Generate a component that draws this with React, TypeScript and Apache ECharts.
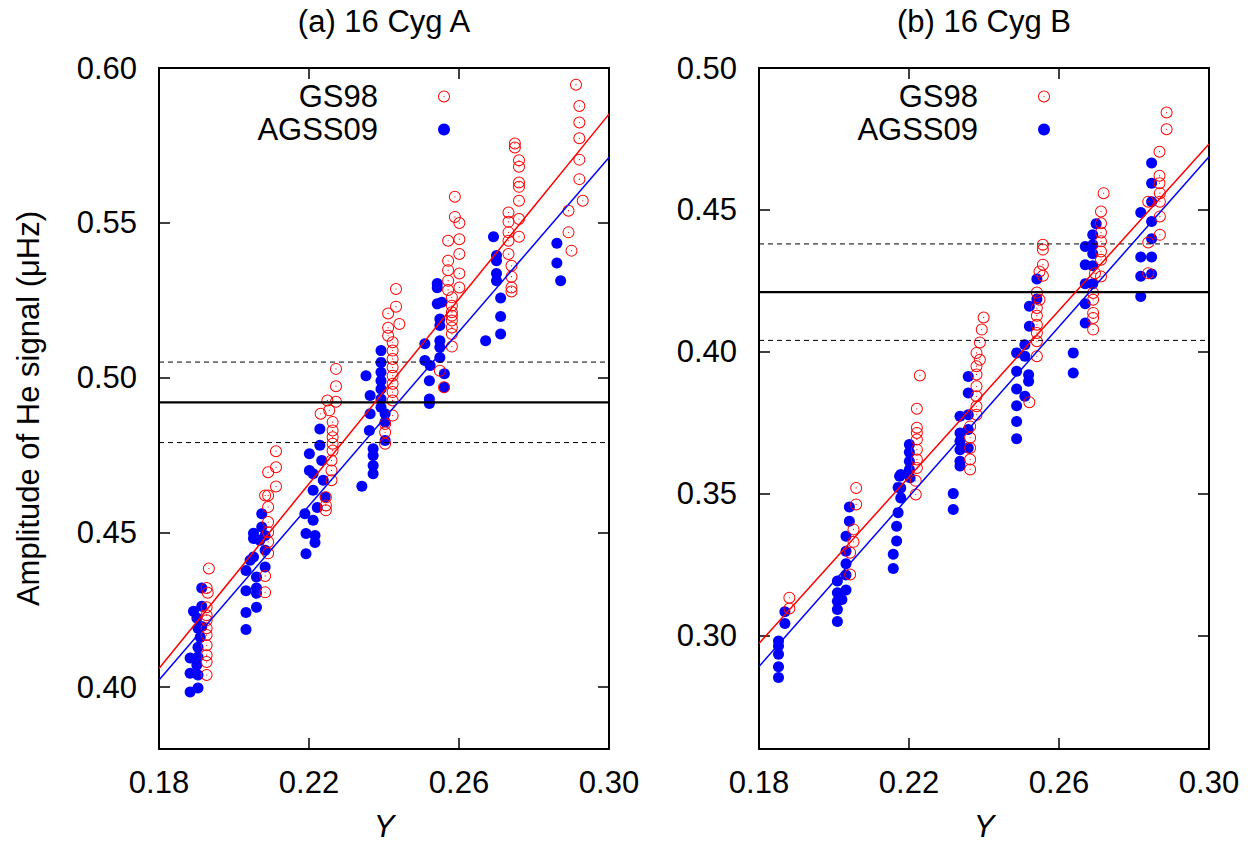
import React, { useEffect, useRef } from 'react';
import * as echarts from 'echarts';

const FONT = 'Liberation Sans, Arial, sans-serif';
const FS = 31;

const xTicks = [0.18, 0.22, 0.26, 0.3];
const yTicksA = [0.4, 0.45, 0.5, 0.55, 0.6];
const yTicksB = [0.3, 0.35, 0.4, 0.45, 0.5];
const yRangeA = [0.38, 0.6];
const yRangeB = [0.26, 0.5];
const xRange = [0.18, 0.3];

const titles = ['(a) 16 Cyg A', '(b) 16 Cyg B'];
const seriesNames = ['GS98', 'AGSS09'];

// observed amplitude: [lower, mean, upper]
const obsA = [0.479, 0.492, 0.505];
const obsB = [0.404, 0.421, 0.438];

// linear fits: [[Y at left edge, A], [Y at right edge, A]]
const fitGs98A = [[0.18, 0.406], [0.3, 0.5851]];
const fitAgss09A = [[0.18, 0.4023], [0.3, 0.5711]];
const fitGs98B = [[0.18, 0.2972], [0.3, 0.4732]];
const fitAgss09B = [[0.18, 0.2891], [0.3, 0.4687]];

const gs98A = [
  [0.1933, 0.4383], [0.1927, 0.432], [0.193, 0.4305], [0.1927, 0.4258], [0.1927, 0.4232], [0.1927, 0.4216],
  [0.1927, 0.419], [0.1927, 0.4168], [0.1927, 0.4135], [0.1927, 0.4103], [0.1927, 0.4081], [0.1927, 0.4039],
  [0.2112, 0.4762], [0.2112, 0.471], [0.2091, 0.4694], [0.2112, 0.4648], [0.2083, 0.4619], [0.2091, 0.4619],
  [0.2091, 0.4582], [0.2091, 0.4533], [0.2091, 0.45], [0.2091, 0.4469], [0.2091, 0.4432], [0.2083, 0.4359], [0.2083, 0.4306],
  [0.2272, 0.5028], [0.2272, 0.4972], [0.2272, 0.4922], [0.2249, 0.4926], [0.2231, 0.4883], [0.2254, 0.4894],
  [0.2263, 0.4856], [0.2263, 0.4829], [0.2263, 0.4807], [0.2263, 0.4786], [0.2263, 0.4764], [0.226, 0.4732],
  [0.226, 0.47], [0.226, 0.4668], [0.2245, 0.4613], [0.2245, 0.4587], [0.2245, 0.4571],
  [0.2432, 0.5286], [0.2432, 0.5229], [0.2411, 0.5207], [0.2441, 0.5173], [0.2411, 0.5161], [0.2411, 0.5135],
  [0.2423, 0.5114], [0.2423, 0.5087], [0.2423, 0.506], [0.2423, 0.5033], [0.2423, 0.5006], [0.2423, 0.498],
  [0.2423, 0.4953], [0.2423, 0.4926], [0.2423, 0.4877], [0.2403, 0.485], [0.2403, 0.4823], [0.2403, 0.4786],
  [0.2589, 0.5584], [0.2589, 0.5519], [0.2601, 0.5499], [0.2601, 0.5447], [0.2601, 0.5399], [0.2601, 0.5336],
  [0.2601, 0.5291], [0.2571, 0.5442], [0.2571, 0.5377], [0.2571, 0.5347], [0.2571, 0.5313], [0.2571, 0.5283],
  [0.2581, 0.5259], [0.2581, 0.5232], [0.2581, 0.5211], [0.2581, 0.52], [0.2581, 0.5184], [0.2581, 0.5162],
  [0.2581, 0.5141], [0.2581, 0.51], [0.2549, 0.5022], [0.256, 0.4969],
  [0.2749, 0.5756], [0.2749, 0.5743], [0.276, 0.5702], [0.276, 0.5681], [0.276, 0.563], [0.276, 0.5616],
  [0.276, 0.5571], [0.276, 0.5512], [0.276, 0.5455], [0.2732, 0.5533], [0.2732, 0.5503], [0.2732, 0.5469],
  [0.2732, 0.5442], [0.2732, 0.5399], [0.274, 0.5361], [0.274, 0.5326], [0.274, 0.5291], [0.274, 0.5278],
  [0.2912, 0.5946], [0.2921, 0.5877], [0.2921, 0.5824], [0.2921, 0.5773], [0.2921, 0.5704], [0.2921, 0.5641],
  [0.293, 0.5571], [0.2892, 0.5539], [0.2892, 0.5469], [0.29, 0.541],
];

const agss09A = [
  [0.1883, 0.4094], [0.1883, 0.4045], [0.1883, 0.3984], [0.1892, 0.4245], [0.1914, 0.432], [0.1914, 0.4261],
  [0.1914, 0.4196], [0.1901, 0.4223], [0.1901, 0.4071], [0.1904, 0.419], [0.1904, 0.4129], [0.1904, 0.4097],
  [0.1904, 0.4039], [0.1904, 0.3997], [0.191, 0.4161],
  [0.2032, 0.4377], [0.2032, 0.4311], [0.2032, 0.4241], [0.2032, 0.4186], [0.2052, 0.442], [0.2052, 0.4497],
  [0.2052, 0.448], [0.2043, 0.441], [0.206, 0.4356], [0.206, 0.432], [0.206, 0.4303], [0.206, 0.4258],
  [0.2074, 0.456], [0.2074, 0.4517], [0.2083, 0.449], [0.2083, 0.4442], [0.2083, 0.4388], [0.2069, 0.4474],
  [0.2201, 0.4754], [0.2201, 0.47], [0.2229, 0.4834], [0.2229, 0.4781], [0.2234, 0.4732], [0.2211, 0.4689],
  [0.2211, 0.4636], [0.2211, 0.4539], [0.2238, 0.4668], [0.2243, 0.4614], [0.2189, 0.456], [0.2192, 0.4496],
  [0.2192, 0.4431], [0.2216, 0.4467], [0.2216, 0.449], [0.2222, 0.458],
  [0.2352, 0.5006], [0.2363, 0.4942], [0.2363, 0.4883], [0.2361, 0.4829], [0.2371, 0.477], [0.2371, 0.4748],
  [0.2371, 0.4716], [0.2371, 0.4689], [0.2341, 0.4649], [0.2392, 0.5087], [0.2392, 0.5049], [0.2392, 0.5017],
  [0.2392, 0.499], [0.2392, 0.4963], [0.2392, 0.4931], [0.2392, 0.4904], [0.2403, 0.4883], [0.2403, 0.4856], [0.2403, 0.4797],
  [0.2509, 0.5109], [0.2509, 0.5055], [0.2523, 0.5039], [0.2521, 0.499], [0.2521, 0.4931], [0.2521, 0.4916],
  [0.2542, 0.5304], [0.2542, 0.529], [0.2542, 0.5238], [0.2554, 0.5243], [0.2549, 0.5189], [0.2549, 0.5168],
  [0.2549, 0.5119], [0.2549, 0.5098], [0.2549, 0.5065], [0.2561, 0.5012], [0.2561, 0.4969],
  [0.2692, 0.5455], [0.27, 0.5394], [0.27, 0.5377], [0.27, 0.5336], [0.27, 0.5313], [0.2711, 0.5257],
  [0.2711, 0.5197], [0.2711, 0.5141], [0.2671, 0.5119],
  [0.2861, 0.5434], [0.2861, 0.537], [0.2871, 0.5313],
];

const gs98B = [
  [0.1881, 0.3133], [0.1881, 0.3095],
  [0.2059, 0.352], [0.2059, 0.3462], [0.2052, 0.3374], [0.2052, 0.333], [0.2043, 0.3292], [0.2043, 0.3215],
  [0.2229, 0.3916], [0.2221, 0.3799], [0.2221, 0.3732], [0.2221, 0.3714], [0.2221, 0.3691], [0.2221, 0.3655],
  [0.2221, 0.362], [0.2221, 0.359], [0.2218, 0.3545], [0.2218, 0.3497],
  [0.2399, 0.4121], [0.2394, 0.4078], [0.2389, 0.4033], [0.2389, 0.3972], [0.238, 0.3996], [0.238, 0.3949],
  [0.238, 0.392], [0.238, 0.3878], [0.238, 0.3843], [0.238, 0.3808], [0.238, 0.3778], [0.2363, 0.3737],
  [0.2363, 0.3697], [0.2363, 0.3661], [0.2363, 0.362], [0.2363, 0.3585],
  [0.2557, 0.4377], [0.2557, 0.436], [0.2557, 0.4307], [0.2557, 0.4268], [0.2548, 0.4283], [0.2548, 0.4183],
  [0.2541, 0.4209], [0.2541, 0.4154], [0.2541, 0.4127], [0.2541, 0.4095], [0.2541, 0.4066], [0.2541, 0.4037],
  [0.2541, 0.3984], [0.2521, 0.3822],
  [0.2719, 0.4559], [0.2712, 0.4494], [0.2712, 0.4453], [0.2712, 0.442], [0.2712, 0.4389], [0.2712, 0.4353],
  [0.2712, 0.4324], [0.2712, 0.4265], [0.2696, 0.4277], [0.2691, 0.4207], [0.2691, 0.4183], [0.2691, 0.4137],
  [0.2691, 0.4119], [0.2691, 0.4078],
  [0.2887, 0.4843], [0.2887, 0.4784], [0.2868, 0.4705], [0.2868, 0.462], [0.2868, 0.4594], [0.2869, 0.4559],
  [0.2869, 0.4529], [0.2869, 0.4477], [0.2869, 0.4412], [0.2838, 0.4529], [0.2838, 0.4385], [0.2838, 0.4277],
];

const agss09B = [
  [0.1852, 0.2981], [0.1852, 0.2963], [0.1852, 0.2934], [0.1852, 0.289], [0.1852, 0.2852], [0.1869, 0.3084], [0.1869, 0.3042],
  [0.2009, 0.3192], [0.2009, 0.3151], [0.2009, 0.3121], [0.2009, 0.3092], [0.2009, 0.3049], [0.2021, 0.3127],
  [0.2032, 0.316], [0.2032, 0.3213], [0.2032, 0.3253], [0.2032, 0.3297], [0.2032, 0.335], [0.2041, 0.3403], [0.2041, 0.3453],
  [0.2158, 0.3286], [0.2158, 0.3236], [0.2167, 0.3333], [0.2167, 0.3385], [0.2171, 0.3433], [0.2171, 0.3522], [0.2175, 0.3561],
  [0.2201, 0.3673], [0.2201, 0.3646], [0.2201, 0.3614], [0.2201, 0.3585], [0.2178, 0.3567], [0.2178, 0.352],
  [0.2178, 0.3485], [0.2203, 0.3556],
  [0.2318, 0.35], [0.2318, 0.3444],
  [0.2358, 0.3913], [0.2358, 0.3855], [0.2358, 0.3778], [0.2358, 0.3726], [0.2358, 0.3661], [0.2336, 0.3773],
  [0.2336, 0.3714], [0.2336, 0.3685], [0.2336, 0.3655], [0.2336, 0.3614], [0.2336, 0.3597],
  [0.2487, 0.3996], [0.2487, 0.3931], [0.2487, 0.3869], [0.2487, 0.381], [0.2487, 0.3754], [0.2487, 0.3693],
  [0.2509, 0.3984], [0.2519, 0.3919], [0.2519, 0.3896], [0.2509, 0.3843],
  [0.2541, 0.4256], [0.2541, 0.4186], [0.2521, 0.416], [0.2521, 0.409], [0.2509, 0.4025],
  [0.2638, 0.3996], [0.2638, 0.3925],
  [0.2699, 0.4451], [0.269, 0.4412], [0.269, 0.4377], [0.269, 0.4345], [0.269, 0.4303], [0.269, 0.424],
  [0.267, 0.4371], [0.267, 0.4307], [0.267, 0.424], [0.267, 0.4169], [0.267, 0.4101],
  [0.2847, 0.4665], [0.2847, 0.4594], [0.2847, 0.4529], [0.2847, 0.4459], [0.2847, 0.4398], [0.2847, 0.4334],
  [0.2847, 0.4274], [0.2818, 0.4491], [0.2818, 0.4334], [0.2818, 0.4266], [0.2818, 0.4195],
];

const RED = '#ff0000';
const BLUE = '#0000ff';
const RING =
  'path://M12 0A12 12 0 1 1 12 24A12 12 0 1 1 12 0ZM12 2A10 10 0 1 0 12 22A10 10 0 1 0 12 2ZM12 10.8A1.2 1.2 0 1 1 12 13.2A1.2 1.2 0 1 1 12 10.8Z';

const fmt = (v: number) => v.toFixed(2);

function axisBase(gridIndex: number) {
  return {
    type: 'value',
    gridIndex,
    splitLine: { show: false },
    axisLine: { show: true, onZero: false, lineStyle: { color: '#000', width: 2 } },
  };
}

function tick(values: number[]) {
  return { show: true, inside: true, length: 11, customValues: values, lineStyle: { color: '#000', width: 1.5 } };
}

function buildAxes(gi: number, yRange: number[], yTicks: number[], withYName: boolean) {
  const xAxes = [
    {
      ...axisBase(gi),
      position: 'bottom',
      min: xRange[0],
      max: xRange[1],
      axisTick: tick(xTicks),
      axisLabel: { customValues: xTicks, formatter: fmt, fontSize: FS, fontFamily: FONT, color: '#000', margin: 18 },
      name: 'Y',
      nameLocation: 'middle',
      nameGap: 62,
      nameTextStyle: { fontSize: FS, fontFamily: FONT, fontStyle: 'italic', color: '#000' },
    },
    {
      ...axisBase(gi),
      position: 'top',
      min: xRange[0],
      max: xRange[1],
      axisTick: tick(xTicks),
      axisLabel: { show: false },
    },
  ];
  const yAxes = [
    {
      ...axisBase(gi),
      position: 'left',
      min: yRange[0],
      max: yRange[1],
      axisTick: tick(yTicks),
      axisLabel: { customValues: yTicks, formatter: fmt, fontSize: FS, fontFamily: FONT, color: '#000', margin: 22 },
      ...(withYName
        ? {
            name: 'Amplitude of He signal (μHz)',
            nameLocation: 'middle',
            nameGap: 115,
            nameTextStyle: { fontSize: FS, fontFamily: FONT, color: '#000' },
          }
        : {}),
    },
    {
      ...axisBase(gi),
      position: 'right',
      min: yRange[0],
      max: yRange[1],
      axisTick: tick(yTicks),
      axisLabel: { show: false },
    },
  ];
  return { xAxes, yAxes };
}

function panelSeries(axisIdx: number, gs: number[][], ag: number[][], fitGs: number[][], fitAg: number[][], obs: number[]) {
  const base = { xAxisIndex: axisIdx, yAxisIndex: axisIdx, silent: true };
  const hline = (v: number, width: number, type: any) => ({
    ...base,
    type: 'line',
    data: [[xRange[0], v], [xRange[1], v]],
    symbol: 'none',
    lineStyle: { color: '#000', width, type },
    z: 4,
  });
  return [
    { ...base, type: 'scatter', name: seriesNames[1], data: ag, symbol: 'circle', symbolSize: 11, itemStyle: { color: BLUE, opacity: 1 }, z: 2 },
    { ...base, type: 'scatter', name: seriesNames[0], data: gs, symbol: RING, symbolSize: 12, itemStyle: { color: RED, opacity: 1 }, z: 3 },
    { ...base, type: 'line', data: fitGs, symbol: 'none', lineStyle: { color: RED, width: 1.5 }, z: 5 },
    { ...base, type: 'line', data: fitAg, symbol: 'none', lineStyle: { color: BLUE, width: 1.5 }, z: 5 },
    hline(obs[1], 2.2, 'solid'),
    hline(obs[0], 1, [5, 4]),
    hline(obs[2], 1, [5, 4]),
  ];
}

function legendItem(name: string, right: number, top: number) {
  return {
    data: [name],
    orient: 'vertical',
    align: 'right',
    right,
    top,
    itemWidth: 122,
    itemHeight: 12,
    padding: 0,
    selectedMode: false,
    itemStyle: { opacity: 1 },
    textStyle: { fontSize: FS, fontFamily: FONT, color: '#000' },
  };
}

export default function App() {
  const ref = useRef<HTMLDivElement>(null);
  useEffect(() => {
    if (!ref.current) return;
    const chart = echarts.init(ref.current, undefined, { renderer: 'svg' });
    const a = buildAxes(0, yRangeA, yTicksA, true);
    const b = buildAxes(1, yRangeB, yTicksB, false);
    const option: any = {
      animation: false,
      backgroundColor: '#fff',
      grid: [
        { left: 159, top: 68, width: 450, height: 682 },
        { left: 759, top: 68, width: 450, height: 682 },
      ],
      xAxis: [a.xAxes[0], a.xAxes[1], b.xAxes[0], b.xAxes[1]],
      yAxis: [a.yAxes[0], a.yAxes[1], b.yAxes[0], b.yAxes[1]],
      legend: [
        legendItem(seriesNames[0], 804, 81),
        legendItem(seriesNames[1], 804, 114),
        legendItem(seriesNames[0], 204, 81),
        legendItem(seriesNames[1], 204, 114),
      ],
      graphic: [
        { type: 'text', x: 384, y: 21, style: { text: titles[0], fontSize: FS, fontFamily: FONT, fill: '#000', align: 'center', verticalAlign: 'middle' } },
        { type: 'text', x: 984, y: 21, style: { text: titles[1], fontSize: FS, fontFamily: FONT, fill: '#000', align: 'center', verticalAlign: 'middle' } },
      ],
      series: [
        ...panelSeries(0, gs98A, agss09A, fitGs98A, fitAgss09A, obsA),
        ...panelSeries(2, gs98B, agss09B, fitGs98B, fitAgss09B, obsB),
      ],
    };
    chart.setOption(option);
    return () => chart.dispose();
  }, []);
  return <div ref={ref} style={{ position: 'absolute', left: 0, top: 0, width: 1254, height: 847, background: '#fff' }} />;
}
